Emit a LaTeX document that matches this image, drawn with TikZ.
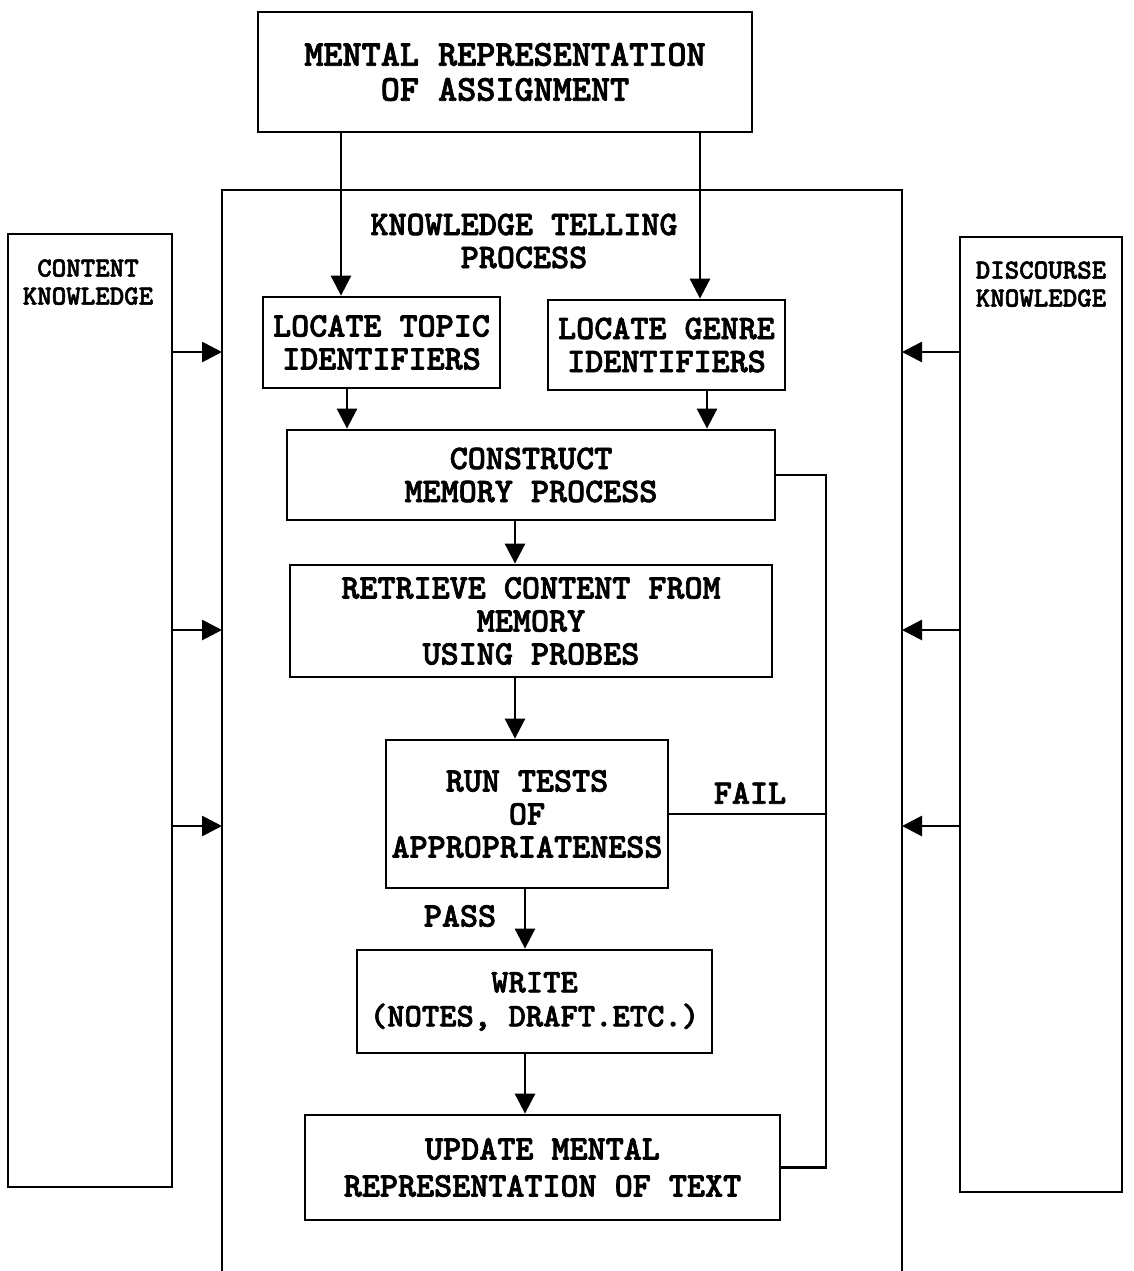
\documentclass[tikz,border=0pt]{standalone}
\usepackage{fontspec}
\usetikzlibrary{arrows.meta,calc}
\newfontfamily\twb{lmmonolt10-bold.otf}[FakeBold=2]
\newcommand\fmain{\twb\fontsize{17.2}{16.5}\selectfont}
\newcommand\fbig{\twb\fontsize{18.2}{17.5}\selectfont}
\newcommand\fsmall{\twb\fontsize{13.8}{14}\selectfont}
\begin{document}
\begin{tikzpicture}[x=0.5pt,y=-0.5pt,
  box/.style={draw, line width=1.4pt, align=center, inner sep=0pt, font=\fmain},
  arr/.style={line width=1.4pt, -{Triangle[length=10pt,width=10pt]}},
  ln/.style={line width=1.4pt},
  lbl/.style={font=\fmain, inner sep=0pt, align=center}]
\useasboundingbox (0,0) rectangle (1134,1271);

% main nodes
\node[box, minimum width=247pt, minimum height=60pt, font=\fbig] (top) at (505,72) {MENTAL REPRESENTATION\\OF ASSIGNMENT};
\node[lbl] (kt) at (524,241) {KNOWLEDGE TELLING\\PROCESS};
\node[box, minimum width=118.5pt, minimum height=45.5pt] (topic) at (381.5,342.5) {LOCATE TOPIC\\IDENTIFIERS};
\node[box, minimum width=118.5pt, minimum height=45pt] (genre) at (666.5,345) {LOCATE GENRE\\IDENTIFIERS};
\node[box, minimum width=244pt, minimum height=45pt] (construct) at (531,475) {CONSTRUCT\\MEMORY PROCESS};
\node[box, minimum width=241pt, minimum height=56pt] (retrieve) at (531,621) {RETRIEVE CONTENT FROM\\MEMORY\\USING PROBES};
\node[box, minimum width=141pt, minimum height=74pt] (tests) at (527,814) {RUN TESTS\\OF\\APPROPRIATENESS};
\node[box, minimum width=177.5pt, minimum height=51.5pt, font=\twb\fontsize{16.5}{17}\selectfont] (write) at (534.5,1001.5) {WRITE\\(NOTES, DRAFT.ETC.)};
\node[box, minimum width=237.5pt, minimum height=52.5pt] (update) at (542.5,1167.5) {UPDATE MENTAL\\[2pt]REPRESENTATION OF TEXT};

% knowledge stores
\node[box, minimum width=82pt, minimum height=476.5pt] (content) at (90,710.5) {};
\node[lbl, font=\fsmall, anchor=north] (contentlbl) at (88,259) {CONTENT\\KNOWLEDGE};
\node[box, minimum width=81pt, minimum height=477.5pt] (discourse) at (1041,714.5) {};
\node[lbl, font=\fsmall, anchor=north] (discourselbl) at (1041,261) {DISCOURSE\\KNOWLEDGE};

% knowledge telling frame (open at bottom)
\coordinate (ktTL) at (222,190);
\coordinate (ktTR) at (902,190);
\coordinate (ktBL) at (222,1271);
\coordinate (ktBR) at (902,1271);
\draw[ln] (ktBL) -- (ktTL) -- (ktTR) -- (ktBR);

% x positions of vertical connectors
\coordinate (xa) at (341,0);
\coordinate (xb) at (700,0);
\coordinate (xc) at (347,0);
\coordinate (xd) at (707,0);
\coordinate (xe) at (515,0);
\coordinate (xf) at (525,0);
\coordinate (fb) at (826,0);

\draw[arr] (top.south -| xa) -- (topic.north -| xa);
\draw[arr] (top.south -| xb) -- (genre.north -| xb);
\draw[arr] (topic.south -| xc) -- (construct.north -| xc);
\draw[arr] (genre.south -| xd) -- (construct.north -| xd);
\draw[arr] (construct.south -| xe) -- (retrieve.north -| xe);
\draw[arr] (retrieve.south -| xe) -- (tests.north -| xe);
\draw[arr] (tests.south -| xf) -- (write.north -| xf);
\draw[arr] (write.south -| xf) -- (update.north -| xf);

% feedback loop
\draw[ln] (construct.east) -- (fb |- construct.east) -- (fb |- update.east) -- (update.east);
\draw[ln] (tests.east) -- (fb |- tests.east);
\node[lbl] (fail) at (750,793) {FAIL};
\node[lbl] (pass) at (460,916) {PASS};

% side arrows
\coordinate (y1) at (0,352);
\coordinate (y2) at (0,630);
\coordinate (y3) at (0,826);
\foreach \yy in {y1,y2,y3}{
  \draw[arr] (content.east |- \yy) -- (ktTL |- \yy);
  \draw[arr] (discourse.west |- \yy) -- (ktTR |- \yy);
}
\end{tikzpicture}
\end{document}
